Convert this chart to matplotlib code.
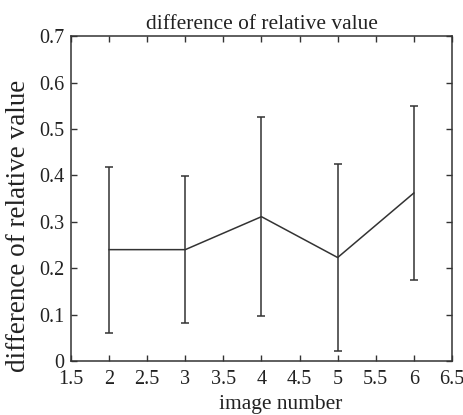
import matplotlib
matplotlib.use("Agg")
import matplotlib.pyplot as plt

image_number = [2, 3, 4, 5, 6]
mean_diff = [0.240, 0.240, 0.311, 0.223, 0.362]
err_diff = [0.179, 0.159, 0.214, 0.202, 0.187]
x_ticks = [1.5, 2, 2.5, 3, 3.5, 4, 4.5, 5, 5.5, 6, 6.5]
x_tick_labels = ["1.5", "2", "2.5", "3", "3.5", "4", "4.5", "5", "5.5", "6", "6.5"]
y_ticks = [0, 0.1, 0.2, 0.3, 0.4, 0.5, 0.6, 0.7]
y_tick_labels = ["0", "0.1", "0.2", "0.3", "0.4", "0.5", "0.6", "0.7"]

plt.rcParams['font.family'] = ['Liberation Serif', 'DejaVu Serif']

fig = plt.figure(figsize=(4.64, 4.15), dpi=100)
ax = fig.add_axes([0.153, 0.130, 0.821, 0.783])
col = "#333333"
ax.errorbar(image_number, mean_diff, yerr=err_diff, color=col, lw=1.1,
            elinewidth=1.1, capsize=2.8, capthick=1.1)
ax.set_xlim(1.5, 6.5)
ax.set_ylim(0, 0.7)
ax.set_xticks(x_ticks)
ax.set_xticklabels(x_tick_labels)
ax.set_yticks(y_ticks)
ax.set_yticklabels(y_tick_labels)
ax.tick_params(direction='in', top=True, right=True, length=4, width=1,
               labelsize=14.5, colors=col, labelcolor='#222222')
ax.tick_params(axis='x', pad=6.5)
ax.tick_params(axis='y', pad=4.5)
for s in ax.spines.values():
    s.set_color(col)
    s.set_linewidth(1.1)
ax.set_title("difference of relative value", fontsize=15.4, color='#222222', pad=5)
ax.set_xlabel("image number", fontsize=15.4, color='#222222')
ax.xaxis.set_label_coords(0.551, -0.103)
ax.set_ylabel("difference of relative value", fontsize=19.5, color='#222222')
ax.yaxis.set_label_coords(-0.105, 0.415)
fig.savefig("out.png", dpi=100)
